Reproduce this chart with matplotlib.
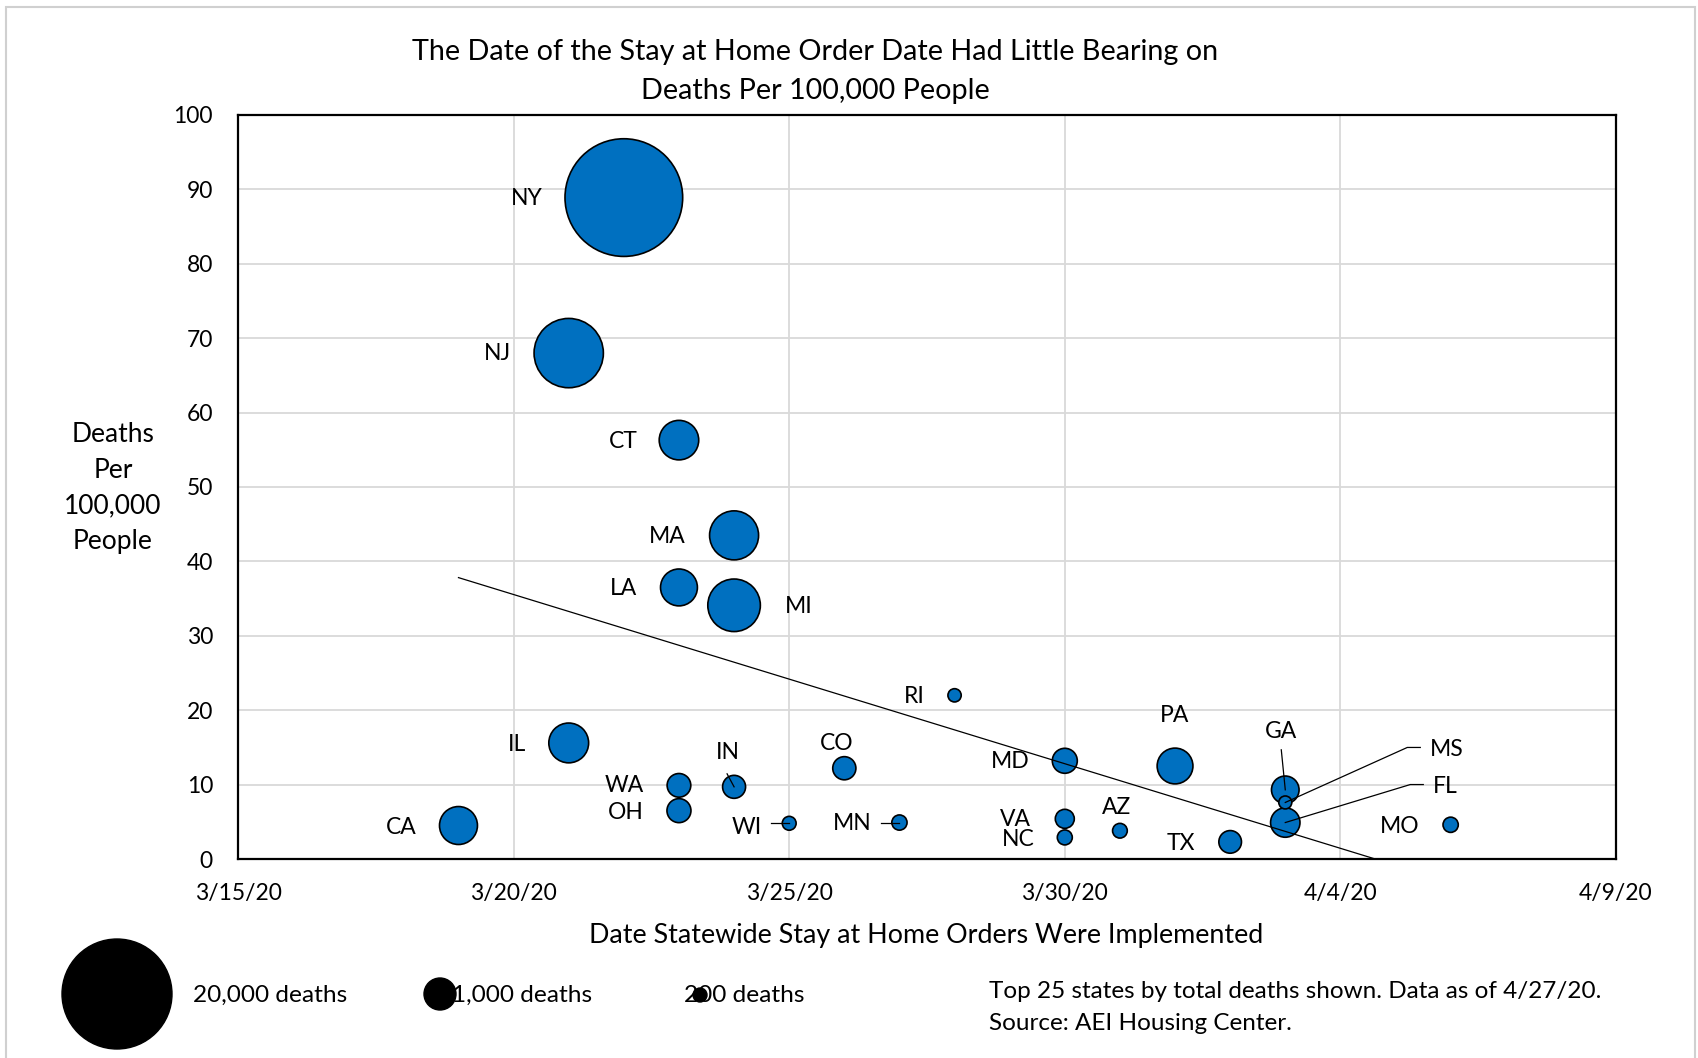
import datetime as dt
import numpy as np
import matplotlib
matplotlib.use("Agg")
import matplotlib.pyplot as plt
import matplotlib.dates as mdates
from matplotlib.lines import Line2D
from matplotlib.patches import Rectangle, Circle
from matplotlib.transforms import IdentityTransform

plt.rcParams['font.family'] = ['Lato', 'DejaVu Sans']

# data
states = ['NY', 'NJ', 'CT', 'MA', 'LA', 'MI', 'RI', 'IL', 'CA', 'WA', 'OH', 'IN', 'WI',
          'CO', 'MN', 'MD', 'VA', 'NC', 'AZ', 'PA', 'TX', 'GA', 'FL', 'MS', 'MO']
order_dates = ['2020-03-22', '2020-03-21', '2020-03-23', '2020-03-24', '2020-03-23',
               '2020-03-24', '2020-03-28', '2020-03-21', '2020-03-19', '2020-03-23',
               '2020-03-23', '2020-03-24', '2020-03-25', '2020-03-26', '2020-03-27',
               '2020-03-30', '2020-03-30', '2020-03-30', '2020-03-31', '2020-04-01',
               '2020-04-02', '2020-04-03', '2020-04-03', '2020-04-03', '2020-04-06']
deaths_per_100k = [88.9, 68.0, 56.3, 43.5, 36.5, 34.1, 22.0, 15.6, 4.5, 9.9, 6.5, 9.7, 4.8,
                   12.2, 4.9, 13.2, 5.4, 2.9, 3.8, 12.5, 2.3, 9.3, 4.9, 7.6, 4.6]
total_deaths = [17300, 6000, 1950, 3000, 1700, 3450, 220, 1980, 1800, 700, 720, 660, 240,
                670, 290, 780, 450, 280, 270, 1600, 640, 950, 1080, 210, 290]

x_tick_dates = ['2020-03-15', '2020-03-20', '2020-03-25', '2020-03-30', '2020-04-04', '2020-04-09']
x_tick_labels = ['3/15/20', '3/20/20', '3/25/20', '3/30/20', '4/4/20', '4/9/20']
y_ticks = [0, 10, 20, 30, 40, 50, 60, 70, 80, 90, 100]

legend_labels = ['20,000 deaths', '1,000 deaths', '200 deaths']

title_lines = ['The Date of the Stay at Home Order Date Had Little Bearing on',
               'Deaths Per 100,000 People']
x_title = 'Date Statewide Stay at Home Orders Were Implemented'
y_title = 'Deaths\nPer\n100,000\nPeople'
note_lines = ['Top 25 states by total deaths shown. Data as of 4/27/20.',
              'Source: AEI Housing Center.']

# label offsets in pixels (dx, dy)
label_pos = {
    'NY': (-97, -1), 'NJ': (-71, 0), 'CT': (-56, -1), 'MA': (-67, -1), 'LA': (-55, -1),
    'MI': (65, -1), 'RI': (-40, -1), 'IL': (-52, -2), 'CA': (-57, -2), 'WA': (-55, 0),
    'OH': (-53, -2), 'IN': (-6, 34), 'WI': (-42, -4), 'CO': (-8, 25), 'MN': (-47, -1),
    'MD': (-55, -1), 'VA': (-49, -1), 'NC': (-47, -2), 'AZ': (-3, 23), 'PA': (0, 51),
    'TX': (-49, -2), 'GA': (-4, 58), 'MO': (-51, -2),
}
left_labels = {'MS': (145, 53), 'FL': (148, 36)}
leaders = {
    'IN': [(-7, 13), (0, 0)],
    'WI': [(-18, 0), (0, 0)],
    'MN': [(-18, 0), (0, 0)],
    'GA': [(-4, 40), (0, 0)],
    'MS': [(0, 0), (122, 55), (135, 55)],
    'FL': [(0, 0), (125, 38), (138, 38)],
}

W, H = 1698, 1058
BLUE = '#0070C0'
FS = 16.5

fig = plt.figure(figsize=(W / 100, H / 100), dpi=100)
ax = fig.add_axes([238 / W, 1 - 859 / H, (1616 - 238) / W, (859 - 115) / H])

x = mdates.date2num([dt.date.fromisoformat(d) for d in order_dates])
y = np.array(deaths_per_100k)

ax.scatter(x, y, s=np.array(total_deaths) * 0.415, c=BLUE, edgecolors='black',
           linewidths=1.2, zorder=3)

# linear trend line (Excel style)
slope, intercept = np.polyfit(x, y, 1)
tx = np.array([x.min(), x.max()])
ax.plot(tx, slope * tx + intercept, color='black', lw=0.9, zorder=4)

xt = mdates.date2num([dt.date.fromisoformat(d) for d in x_tick_dates])
ax.set_xlim(xt[0], xt[-1])
ax.set_ylim(0, 100)
ax.set_xticks(xt)
ax.set_xticklabels(x_tick_labels)
ax.set_yticks(y_ticks)
ax.tick_params(length=0, labelsize=FS)
ax.tick_params(axis='y', pad=18)
ax.tick_params(axis='x', pad=17)
ax.grid(color='#d9d9d9', linewidth=1.3)
ax.set_axisbelow(True)
for sp in ax.spines.values():
    sp.set_linewidth(1.6)
    sp.set_color('black')

for st, xi, yi in zip(states, x, y):
    if st in label_pos:
        dx, dy = label_pos[st]
        ax.annotate(st, (xi, yi), xytext=(dx, dy), textcoords='offset pixels',
                    ha='center', va='center', fontsize=FS, zorder=5)
    else:
        dx, dy = left_labels[st]
        ax.annotate(st, (xi, yi), xytext=(dx, dy), textcoords='offset pixels',
                    ha='left', va='center', fontsize=FS, zorder=5)

# leader lines, drawn in pixel space
for st, pts in leaders.items():
    i = states.index(st)
    cx, cy = ax.transData.transform((x[i], y[i]))
    fig.add_artist(Line2D([cx + p[0] for p in pts], [cy + p[1] for p in pts],
                          transform=IdentityTransform(), color='black', lw=0.9, zorder=6))

# titles
fig.text(815 / W, 1 - 52 / H, title_lines[0], ha='center', va='center', fontsize=20.7)
fig.text(815 / W, 1 - 91 / H, title_lines[1], ha='center', va='center', fontsize=20.7)
fig.text(926 / W, 1 - 936 / H, x_title, ha='center', va='center', fontsize=19.4)
fig.text(113 / W, 1 - 488 / H, y_title, ha='center', va='center', fontsize=19,
         multialignment='center', linespacing=1.52)

# bubble size legend
legend_px = [(117, 994, 55), (440, 994, 16), (700, 995, 7)]
legend_text_x = [193, 452, 684]
for (cx, cy, r), lab, tx_ in zip(legend_px, legend_labels, legend_text_x):
    fig.text(tx_ / W, 1 - 995 / H, lab, ha='left', va='center', fontsize=17.6)
    fig.add_artist(Circle((cx, H - cy), r, transform=IdentityTransform(),
                          color='black', zorder=5))

fig.text(989 / W, 1 - 992 / H, note_lines[0], ha='left', va='center', fontsize=17.5)
fig.text(989 / W, 1 - 1024 / H, note_lines[1], ha='left', va='center', fontsize=17.5)

# outer chart border
fig.add_artist(Rectangle((6, -20), 1689, H - 7 + 20, transform=IdentityTransform(),
                         fill=False, edgecolor='#d0d0d0', lw=1.5))

fig.savefig('out.png', dpi=100)
